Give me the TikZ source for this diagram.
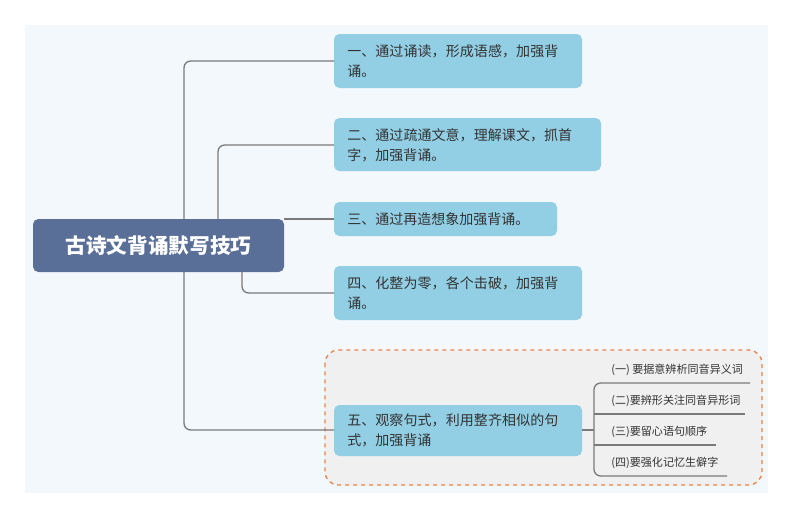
\documentclass[tikz,border=0pt]{standalone}
\usepackage{fontspec}
\setmainfont{Noto Sans CJK SC}
\XeTeXlinebreaklocale "zh"
\XeTeXlinebreakskip=0pt plus 1pt
\definecolor{bgc}{HTML}{F3F8FC}
\definecolor{boxc}{HTML}{92CFE5}
\definecolor{rootc}{HTML}{5A6F98}
\definecolor{linec}{HTML}{7A7A7A}
\definecolor{txtc}{HTML}{333333}
\definecolor{orc}{HTML}{E8834A}
\begin{document}
\begin{tikzpicture}[x=0.75pt,y=-0.75pt,
  conn/.style={draw=linec,line width=1pt,rounded corners=5pt},
  ttext/.style={text=txtc,font=\fontsize{10.5pt}{15pt}\selectfont,align=left,anchor=west,text width=#1,inner sep=0pt},
  sub/.style={text=txtc,font=\fontsize{8.3pt}{10pt}\selectfont,anchor=west,inner sep=0pt}]
\useasboundingbox (0,0) rectangle (794,519);
\fill[white] (0,0) rectangle (794,519);
\fill[bgc] (25,25) rectangle (768,493);
% dashed group
\draw[orc,dashed,line width=1pt,fill=white!94!black,rounded corners=10pt] (325,350) rectangle (762,485);
% boxes
\fill[rootc,rounded corners=4pt] (33,219) rectangle (284,272);
\node[text=white,font=\fontsize{15.5pt}{18pt}\selectfont\bfseries] (root) at (158.5,245.5) {古诗文背诵默写技巧};
\fill[boxc,rounded corners=4pt] (334,34) rectangle (582,88);
\node[ttext=160pt] (b1) at (347,61) {一、通过诵读，形成语感，加强背诵。};
\fill[boxc,rounded corners=4pt] (334,118) rectangle (601,171);
\node[ttext=170pt] (b2) at (347,145) {二、通过疏通文意，理解课文，抓首字，加强背诵。};
\fill[boxc,rounded corners=4pt] (334,202) rectangle (557,236);
\node[ttext=170pt] (b3) at (347,219) {三、通过再造想象加强背诵。};
\fill[boxc,rounded corners=4pt] (334,266) rectangle (582,320);
\node[ttext=160pt] (b4) at (347,293) {四、化整为零，各个击破，加强背诵。};
\fill[boxc,rounded corners=4pt] (334,405) rectangle (582,456);
\node[ttext=160pt] (b5) at (347,430) {五、观察句式，利用整齐相似的句式，加强背诵};
% connectors
\coordinate (e1) at (334,61); \coordinate (e2) at (334,145);
\coordinate (e3) at (334,219); \coordinate (e4) at (334,293);
\coordinate (e5) at (334,430);
\draw[conn] (184,219) |- (e1);
\draw[conn] (218,219) |- (e2);
\draw[conn] (284,219) -- (e3);
\draw[conn] (242,272) |- (e4);
\draw[conn] (184,272) |- (e5);
% sub items
\node[sub] (s1) at (611,370) {(一) 要据意辨析同音异义词};
\node[sub] (s2) at (611,401) {(二)要辨形关注同音异形词};
\node[sub] (s3) at (611,432) {(三)要留心语句顺序};
\node[sub] (s4) at (611,463) {(四)要强化记忆生僻字};
\coordinate (f) at (582,430);
\draw[conn] (f) -- (594,430);
\draw[conn] (750,383) -- (594,383) -- (594,476) -- (727,476);
\draw[conn] (594,414) -- (745,414);
\draw[conn] (594,445) -- (716,445);
\end{tikzpicture}
\end{document}
